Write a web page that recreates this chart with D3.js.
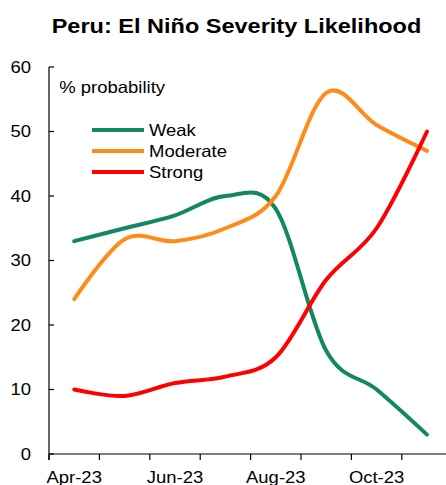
<!DOCTYPE html>
<html>
<head>
<meta charset="utf-8">
<script src="https://cdn.jsdelivr.net/npm/d3@7/dist/d3.min.js"></script>
<style>
  html, body { margin: 0; padding: 0; background: #fff; }
  svg { display: block; font-family: "Liberation Sans", Arial, sans-serif; }
</style>
</head>
<body>
<svg id="chart" width="446" height="485"></svg>
<script>
// Monthly outlook of El Niño severity (% probability)
const months = ["Apr-23", "May-23", "Jun-23", "Jul-23", "Aug-23", "Sep-23", "Oct-23", "Nov-23"];
const weak     = [33, 35, 37, 40, 38, 16, 10, 3];
const moderate = [24, 33.3, 33, 35, 40, 56, 51, 47];
const strong   = [10, 9, 11, 12, 15, 27, 35, 50];
const shownMonthLabels = ["Apr-23", "Jun-23", "Aug-23", "Oct-23"];
const yTicks = [0, 10, 20, 30, 40, 50, 60];

const seriesList = [
  { name: "Weak", values: weak, color: "#138762" },
  { name: "Moderate", values: moderate, color: "#FF8C1A" },
  { name: "Strong", values: strong, color: "#FF0000" }
];

const svg = d3.select("#chart");
const sx = 1.12; // slightly wide lettering

const x = d3.scaleBand().domain(months).range([49, 452.2]).padding(0);
const y = d3.scaleLinear().domain([0, 60]).range([454, 67]);

function label(g, px, py, str, size, anchor, weight) {
  return g.append("text")
    .attr("transform", `translate(${px},${py}) scale(${sx},1)`)
    .attr("text-anchor", anchor || "start")
    .attr("font-size", size)
    .attr("font-weight", weight || "normal")
    .attr("fill", "#000")
    .text(str);
}

// Title
label(svg, 236.5, 32.5, "Peru: El Niño Severity Likelihood", 21, "middle", "bold");

// Axes
const axisG = svg.append("g");
axisG.append("line")
  .attr("x1", 49).attr("x2", 49).attr("y1", y(60)).attr("y2", 460)
  .attr("stroke", "#000").attr("stroke-width", 1.2);
axisG.append("line")
  .attr("x1", 49).attr("x2", 452).attr("y1", y(0)).attr("y2", y(0))
  .attr("stroke", "#000").attr("stroke-width", 1.2);

yTicks.forEach(v => {
  axisG.append("line")
    .attr("x1", 49).attr("x2", 54).attr("y1", y(v)).attr("y2", y(v))
    .attr("stroke", "#000").attr("stroke-width", 1.2);
  label(axisG, 31, y(v) + 5.9, String(v), 16.5, "end");
});

months.forEach(m => {
  const bx = x(m);
  axisG.append("line")
    .attr("x1", bx).attr("x2", bx).attr("y1", y(0)).attr("y2", 460)
    .attr("stroke", "#000").attr("stroke-width", 1.2);
});
shownMonthLabels.forEach(m => {
  label(axisG, x(m) + x.bandwidth() / 2, 482.5, m, 16.5, "middle");
});

// Unit note
label(svg, 59.3, 93, "% probability", 16.5, "start");

// Smoothed series lines
const line = d3.line()
  .x((d, i) => x(months[i]) + x.bandwidth() / 2)
  .y(d => y(d))
  .curve(d3.curveCardinal.tension(0));

const linesG = svg.append("g");
seriesList.forEach(s => {
  linesG.append("path")
    .attr("d", line(s.values))
    .attr("fill", "none")
    .attr("stroke", s.color)
    .attr("stroke-width", 4)
    .attr("stroke-linecap", "round")
    .attr("stroke-linejoin", "round");
});

// Legend
const legendG = svg.append("g");
seriesList.forEach((s, i) => {
  const ly = 130 + i * 21;
  legendG.append("line")
    .attr("x1", 92).attr("x2", 144).attr("y1", ly).attr("y2", ly)
    .attr("stroke", s.color).attr("stroke-width", 4);
  label(legendG, 149, ly + 5.9, s.name, 16.5, "start");
});
</script>
</body>
</html>
